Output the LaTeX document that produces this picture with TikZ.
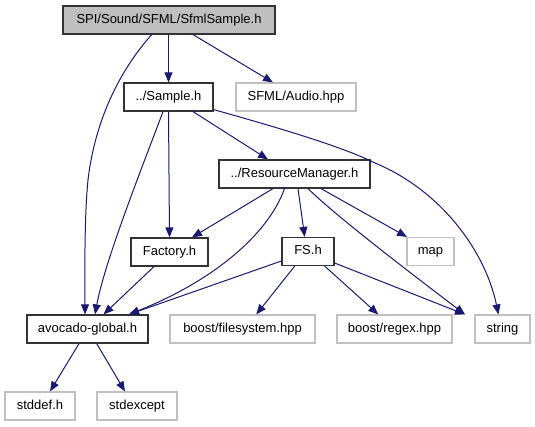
\documentclass[tikz,border=0pt]{standalone}
\usepackage{fontspec}
\setmainfont{Liberation Sans}
\usetikzlibrary{arrows.meta}
\definecolor{edgeblue}{HTML}{191970}
\definecolor{extgray}{HTML}{C0C0C0}
\definecolor{topfill}{HTML}{BFBFBF}
\definecolor{boxline}{HTML}{333333}
\begin{document}
\begin{tikzpicture}[x=1pt,y=-1pt,
  box/.style={draw=boxline,line width=1.2pt,minimum height=28pt,inner sep=0pt,
    font=\fontsize{13}{15}\selectfont,text height=9.5pt,text depth=2.6pt},
  ext/.style={box,draw=extgray,line width=1.1pt},
  cur/.style={box,fill=topfill},
  e/.style={draw=edgeblue,line width=1pt,-{Triangle[length=10pt,width=8pt]}}]
\useasboundingbox (0,0) rectangle (535,427);
\node[cur,minimum width=212pt] (top) at (169,20) {SPI/Sound/SFML/SfmlSample.h};
\node[box,minimum width=89pt] (sample) at (168.5,97) {../Sample.h};
\node[ext,minimum width=120pt] (audio) at (296,97) {SFML/Audio.hpp};
\node[box,minimum width=151pt] (rm) at (294.5,174) {../ResourceManager.h};
\node[box,minimum width=77pt] (factory) at (169.5,252) {Factory.h};
\node[box,minimum width=52pt] (fs) at (308,251.5) {FS.h};
\node[ext,minimum width=47pt] (map) at (430.5,251.5) {map};
\node[box,minimum width=121pt] (avo) at (87.5,329) {avocado-global.h};
\node[ext,minimum width=145pt] (bfs) at (242.5,329) {boost/filesystem.hpp};
\node[ext,minimum width=115pt] (brx) at (394.5,329) {boost/regex.hpp};
\node[ext,minimum width=55pt] (str) at (502.5,329) {string};
\node[ext,minimum width=70pt] (stddef) at (40,406) {stddef.h};
\node[ext,minimum width=80pt] (stdexcept) at (137,406) {stdexcept};

\draw[e] (top.south -| sample.north) -- (sample.north);
\draw[e] ([xshift=24pt]top.south) -- ([xshift=-23pt]audio.north);
\draw[e] ([xshift=-17.3pt]top.south) .. controls (120,70) and (95,120) .. (88,180)
   .. controls (84,220) and (85,280) .. ([xshift=-2.5pt]avo.north);
\draw[e] (sample.south) -- (factory.north);
\draw[e] ([xshift=-5.5pt]sample.south) .. controls (145,160) and (105,260) .. ([xshift=7.5pt]avo.north);
\draw[e] ([xshift=24.5pt]sample.south) -- ([xshift=-26.5pt]rm.north);
\draw[e] ([yshift=2pt]sample.south east) .. controls (290,131) and (345,148) .. (375,163)
   .. controls (440,190) and (485,250) .. ([xshift=-4pt]str.north);
\draw[e] ([xshift=-21.5pt]rm.south) -- ([xshift=22.5pt]factory.north);
\draw[e] ([xshift=-10pt]rm.south) .. controls (270,230) and (220,278) .. ([xshift=41.5pt]avo.north);
\draw[e] ([xshift=3.5pt]rm.south) -- ([xshift=-3.3pt]fs.north);
\draw[e] ([xshift=13.5pt]rm.south) .. controls (335,215) and (400,265) .. ([xshift=-37.5pt]str.north);
\draw[e] ([xshift=26.5pt]rm.south) -- ([xshift=-23.5pt]map.north);
\draw[e] ([xshift=-15.5pt]factory.south) -- ([xshift=16pt]avo.north);
\draw[e] ([yshift=-9.5pt]fs.west) -- ([xshift=41.5pt]avo.north);
\draw[e] ([xshift=-13.3pt]fs.south) -- ([xshift=13.8pt]bfs.north);
\draw[e] ([xshift=16.7pt]fs.south) -- ([xshift=-16.2pt]brx.north);
\draw[e] ([yshift=-11.5pt]fs.east) -- ([xshift=-37.5pt]str.north);
\draw[e] ([xshift=-8.5pt]avo.south) -- ([xshift=10pt]stddef.north);
\draw[e] ([xshift=9.2pt]avo.south) -- ([xshift=-12pt]stdexcept.north);
\end{tikzpicture}
\end{document}
